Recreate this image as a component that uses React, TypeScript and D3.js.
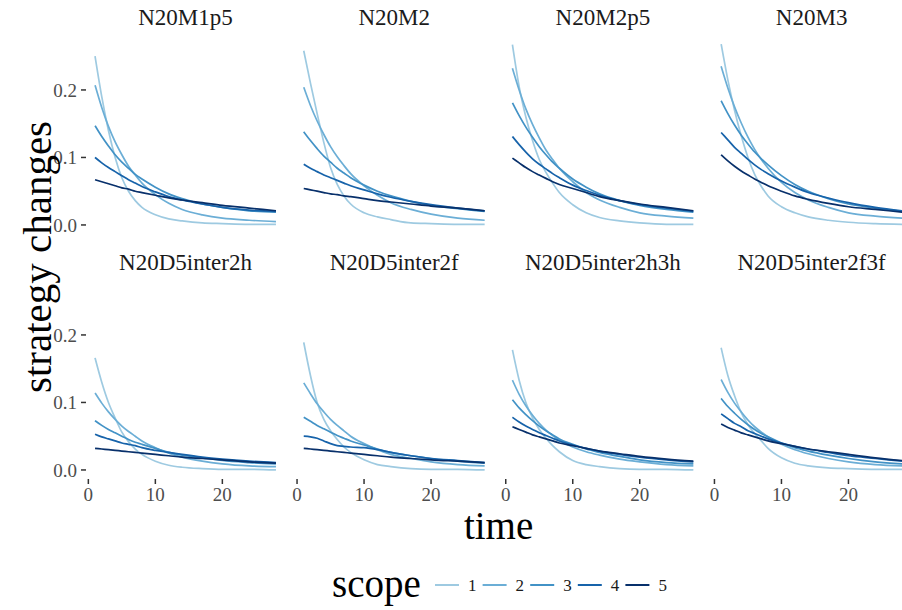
import * as d3 from 'd3';

// sample times (x) shared by every series
const times = [1, 2, 3, 4, 5, 6, 7, 8, 10, 12, 14, 17, 20, 24, 28];
const scopes = ['1', '2', '3', '4', '5'];
const scopeColors = ['#9ecae1', '#6baed6', '#4292c6', '#1763aa', '#08306b'];
const panelNames = [
  'N20M1p5', 'N20M2', 'N20M2p5', 'N20M3',
  'N20D5inter2h', 'N20D5inter2f', 'N20D5inter2h3h', 'N20D5inter2f3f',
];
const yTicks = [0, 0.1, 0.2];
const xTicks = [0, 10, 20];

// one row per scope (1..5), values at `times`
const n20m1p5 = [
  [.250, .190, .140, .100, .070, .050, .036, .026, .015, .009, .006, .003, .002, .001, .001],
  [.207, .174, .146, .123, .104, .087, .074, .062, .045, .032, .023, .015, .010, .007, .005],
  [.147, .131, .117, .104, .093, .084, .075, .068, .056, .046, .039, .031, .026, .021, .019],
  [.100, .092, .085, .079, .073, .067, .062, .057, .049, .042, .037, .031, .026, .022, .020],
  [.067, .064, .061, .058, .055, .053, .050, .048, .044, .040, .037, .033, .029, .025, .021],
];
const n20m2 = [
  [.258, .210, .165, .122, .085, .060, .043, .031, .018, .012, .008, .003, .002, .001, .001],
  [.204, .177, .154, .134, .116, .101, .088, .076, .058, .044, .033, .023, .016, .010, .007],
  [.138, .125, .113, .102, .093, .084, .077, .070, .059, .050, .043, .035, .029, .024, .020],
  [.090, .084, .079, .074, .070, .066, .062, .058, .052, .046, .041, .035, .030, .025, .021],
  [.054, .052, .050, .048, .046, .045, .043, .042, .039, .036, .034, .031, .028, .025, .021],
];
const n20m2p5 = [
  [.267, .205, .160, .125, .097, .078, .062, .048, .030, .018, .011, .006, .003, .001, .001],
  [.232, .200, .172, .149, .129, .111, .097, .084, .064, .048, .037, .026, .018, .013, .010],
  [.181, .162, .145, .130, .116, .104, .093, .084, .068, .056, .046, .036, .029, .023, .019],
  [.131, .119, .108, .098, .090, .083, .076, .070, .059, .051, .044, .036, .030, .025, .020],
  [.099, .092, .085, .079, .074, .069, .064, .060, .054, .048, .042, .036, .031, .026, .021],
];
const n20m3 = [
  [.268, .215, .170, .132, .100, .075, .057, .043, .027, .018, .012, .007, .004, .002, .001],
  [.235, .203, .175, .151, .130, .112, .097, .084, .063, .048, .037, .026, .018, .013, .010],
  [.184, .165, .148, .133, .120, .108, .098, .089, .073, .060, .050, .039, .031, .025, .020],
  [.137, .126, .115, .106, .097, .089, .082, .076, .065, .056, .048, .040, .033, .026, .021],
  [.104, .095, .087, .080, .074, .068, .063, .058, .050, .043, .038, .032, .027, .023, .019],
];
const n20d5inter2h = [
  [.166, .130, .100, .077, .056, .042, .031, .023, .013, .007, .004, .002, .001, .001, .000],
  [.114, .099, .086, .075, .065, .057, .050, .043, .033, .025, .019, .013, .009, .006, .005],
  [.073, .066, .060, .055, .050, .045, .041, .038, .032, .026, .022, .018, .014, .011, .009],
  [.053, .049, .046, .043, .040, .038, .036, .033, .029, .026, .023, .019, .016, .013, .011],
  [.032, .031, .030, .029, .028, .027, .026, .025, .023, .021, .019, .017, .015, .012, .010],
];
const n20d5inter2f = [
  [.189, .140, .100, .075, .058, .045, .034, .026, .015, .008, .005, .002, .001, .001, .000],
  [.129, .113, .098, .086, .075, .066, .058, .050, .039, .030, .023, .017, .012, .008, .006],
  [.078, .072, .066, .061, .056, .051, .047, .043, .037, .031, .026, .021, .017, .013, .010],
  [.050, .049, .047, .043, .039, .036, .035, .034, .033, .030, .026, .021, .017, .014, .011],
  [.032, .031, .030, .029, .028, .027, .026, .025, .023, .021, .019, .017, .015, .013, .011],
];
const n20d5inter2h3h = [
  [.178, .133, .100, .077, .060, .047, .036, .027, .014, .008, .005, .002, .001, .001, .000],
  [.133, .112, .095, .081, .069, .059, .051, .044, .034, .027, .022, .016, .012, .008, .006],
  [.104, .092, .082, .073, .065, .058, .052, .046, .038, .031, .026, .020, .015, .011, .009],
  [.078, .071, .065, .060, .055, .051, .047, .043, .037, .032, .028, .023, .019, .015, .012],
  [.064, .060, .056, .052, .049, .046, .043, .040, .036, .032, .028, .024, .020, .016, .013],
];
const n20d5inter2f3f = [
  [.181, .140, .110, .085, .067, .054, .043, .032, .018, .010, .006, .003, .002, .001, .001],
  [.134, .115, .099, .086, .074, .064, .056, .049, .038, .030, .024, .017, .012, .008, .006],
  [.106, .094, .084, .075, .067, .060, .054, .049, .040, .033, .028, .022, .017, .012, .009],
  [.083, .076, .069, .064, .058, .054, .050, .046, .040, .035, .031, .026, .021, .017, .013],
  [.068, .063, .059, .055, .052, .049, .046, .043, .039, .035, .031, .027, .023, .018, .014],
];

const panelData = [
  n20m1p5, n20m2, n20m2p5, n20m3,
  n20d5inter2h, n20d5inter2f, n20d5inter2h3h, n20d5inter2f3f,
];

const W = 902;
const H = 610;
const FONT = '"Liberation Serif", "DejaVu Serif", serif';

/* ── layout ── */
const panelLeft0 = 86;
const colStep = 208.7;
const panelW = 199;
const rowTops = [35, 280];
const panelH = 199;

const x = d3.scaleLinear().domain([-0.35, 29.35]).range([0, panelW]);
const y = d3.scaleLinear().domain([-0.0134, 0.2814]).range([panelH, 0]);

const line = d3.line<number>()
  .x((_, i) => x(times[i]))
  .y(d => y(d))
  .curve(d3.curveMonotoneX);

function Panel({ idx }: { idx: number }) {
  const col = idx % 4;
  const row = Math.floor(idx / 4);
  const left = panelLeft0 + col * colStep;
  const top = rowTops[row];
  const series = panelData[idx];
  return (
    <g transform={`translate(${left},${top})`}>
      <text x={panelW / 2} y={-10} textAnchor="middle" fontSize={23} fill="#1a1a1a"
        fontFamily={FONT}>
        {panelNames[idx]}
      </text>
      {col === 0 && yTicks.map(t => (
        <g key={t} transform={`translate(0,${y(t)})`}>
          <line x1={-5} x2={0} stroke="#333" strokeWidth={1.5} />
          <text x={-9} dy="0.35em" textAnchor="end" fontSize={19} fill="#4d4d4d"
            fontFamily={FONT}>
            {t.toFixed(1)}
          </text>
        </g>
      ))}
      {row === 1 && xTicks.map(t => (
        <g key={t} transform={`translate(${x(t)},${panelH})`}>
          <line y1={0} y2={5} stroke="#333" strokeWidth={1.5} />
          <text y={22} textAnchor="middle" fontSize={19} fill="#4d4d4d"
            fontFamily={FONT}>{t}</text>
        </g>
      ))}
      {series.map((vals, si) => (
        <path key={si} d={line(vals) || ''} fill="none"
          stroke={scopeColors[si]} strokeWidth={1.7} />
      ))}
    </g>
  );
}

export default function App() {
  const plotCenterX = panelLeft0 + (3 * colStep + panelW) / 2;
  const plotCenterY = (rowTops[0] + rowTops[1] + panelH) / 2;
  return (
    <div style={{ position: 'absolute', left: 0, top: 0 }}>
      <svg width={W} height={H} style={{ display: 'block', fontFamily: FONT }}>
        <rect width={W} height={H} fill="#fff" />
        {panelNames.map((_, i) => <Panel key={i} idx={i} />)}
        <text x={plotCenterX} y={539} textAnchor="middle" fontSize={39} fill="#000"
          fontFamily={FONT}>time</text>
        <text transform={`translate(51,${plotCenterY}) rotate(-90)`} textAnchor="middle"
          fontSize={41} fill="#000" fontFamily={FONT}>strategy changes</text>
        {/* legend */}
        <text x={332} y={597} fontSize={39} fill="#000" fontFamily={FONT}>scope</text>
        {scopes.map((s, i) => {
          const kx = 435 + i * 47.6;
          return (
            <g key={s}>
              <line x1={kx} x2={kx + 24} y1={585} y2={585} stroke={scopeColors[i]} strokeWidth={2} />
              <text x={kx + 33} y={591} fontSize={17} fill="#1a1a1a" fontFamily={FONT}>{s}</text>
            </g>
          );
        })}
      </svg>
    </div>
  );
}
